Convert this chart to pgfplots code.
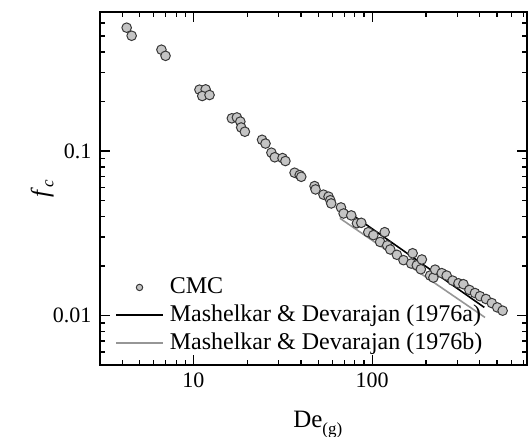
\documentclass[border=0pt]{standalone}
\usepackage{fontspec}
\setmainfont{Liberation Serif}
\usepackage{pgfplots}
\pgfplotsset{compat=1.18}

\definecolor{mkfill}{RGB}{196,196,196}
\definecolor{mkedge}{RGB}{55,55,55}
\definecolor{lgray}{RGB}{150,150,150}

\pgfplotsset{
  lineleg/.style={legend image code/.code={\draw[##1] (0pt,0pt) -- (23.5pt,0pt);}},
  dotleg/.style={legend image code/.code={\draw[##1,mark size=1.6pt] plot coordinates {(11.75pt,0pt)};}},
}

\begin{document}
\fontsize{11}{13}\selectfont
\begin{tikzpicture}[x=1pt,y=1pt]
\useasboundingbox (0,0) rectangle (265.5,218);
\begin{axis}[
    at={(50pt,35.5pt)}, anchor=south west,
    scale only axis,
    width=213.5pt, height=176.5pt,
    xmode=log, ymode=log,
    xmin=3, xmax=735, ymin=0.005, ymax=0.7,
    xtick={10,100}, xticklabels={10,100},
    ytick={0.01,0.1}, yticklabels={0.01,0.1},
    minor xtick={4,5,6,7,8,9,20,30,40,50,60,70,80,90,200,300,400,500,600,700},
    minor ytick={0.006,0.007,0.008,0.009,0.02,0.03,0.04,0.05,0.06,0.07,0.08,0.09,0.2,0.3,0.4,0.5,0.6},
    tick align=inside,
    major tick length=5pt, minor tick length=2.5pt,
    axis line style={line width=0.75pt},
    every tick/.style={black, line width=0.6pt},
    tick label style={font=\fontsize{11}{13}\selectfont},
    yticklabel style={xshift=-0.5pt},
    /pgf/number format/assume math mode=true,
    xlabel={De\raisebox{-3.5pt}{\fontsize{8.5}{9}\selectfont (g)}},
    ylabel={\textit{f}\raisebox{-2.5pt}{\fontsize{8.5}{9}\selectfont\textit{c}}},
    label style={font=\fontsize{12.5}{15}\selectfont},
    xlabel style={at={(axis description cs:0.51,-0.178)}, anchor=base},
    ylabel style={at={(axis description cs:-0.135,0.5)}, anchor=center},
    legend style={at={(axis description cs:0.03,0.265)}, anchor=north west,
        draw=none, fill=none, font=\fontsize{12}{14}\selectfont,
        row sep=0pt, column sep=1pt, inner sep=1pt},
    legend cell align=left,
]
\addplot[only marks, mark=*, mark size=2.4pt,
    mark options={fill=mkfill, draw=mkedge, line width=0.5pt}, dotleg]
coordinates {
(4.23,0.562) (4.51,0.502) (6.62,0.413) (6.98,0.379)
(10.8,0.236) (11.7,0.237) (11.2,0.216) (12.3,0.219)
(16.4,0.158) (17.5,0.160) (18.3,0.151) (18.5,0.139) (19.4,0.131)
(24.2,0.117) (25.3,0.111) (27.3,0.0977) (28.5,0.0916) (31.5,0.0906) (32.7,0.0869)
(36.8,0.0738) (39.3,0.0714) (40.1,0.0697)
(47.6,0.0612) (48.2,0.0584) (53.4,0.0543) (57.0,0.0528) (58.3,0.0502) (59.0,0.0480)
(66.9,0.0454) (69.2,0.0417) (76.4,0.0406) (82.2,0.0364) (86.9,0.0366)
(95.1,0.0321) (117.5,0.0321) (101.6,0.0308) (110.8,0.0280) (121.4,0.0267)
(126.2,0.0252) (137.5,0.0234) (149.7,0.0217) (168.4,0.0239) (165.3,0.0207)
(177.7,0.0202) (189.7,0.0219) (187.2,0.0191) (211,0.0175) (220,0.0170)
(225,0.0190) (245,0.0181) (261,0.0175) (282,0.0163) (304,0.0157)
(324,0.0155) (350,0.0143) (376,0.0137) (401,0.0131) (433,0.0126)
(467,0.0119) (501,0.0112) (537,0.0107)
};
\addlegendentry{CMC}
\addplot[black, line width=0.8pt, no marks, lineleg] coordinates {(66,0.0462) (424,0.0112)};
\addlegendentry{Mashelkar \& Devarajan (1976a)}
\addplot[lgray, line width=0.8pt, no marks, lineleg] coordinates {(66,0.039) (428,0.00973)};
\addlegendentry{Mashelkar \& Devarajan (1976b)}
\end{axis}
\end{tikzpicture}
\end{document}
